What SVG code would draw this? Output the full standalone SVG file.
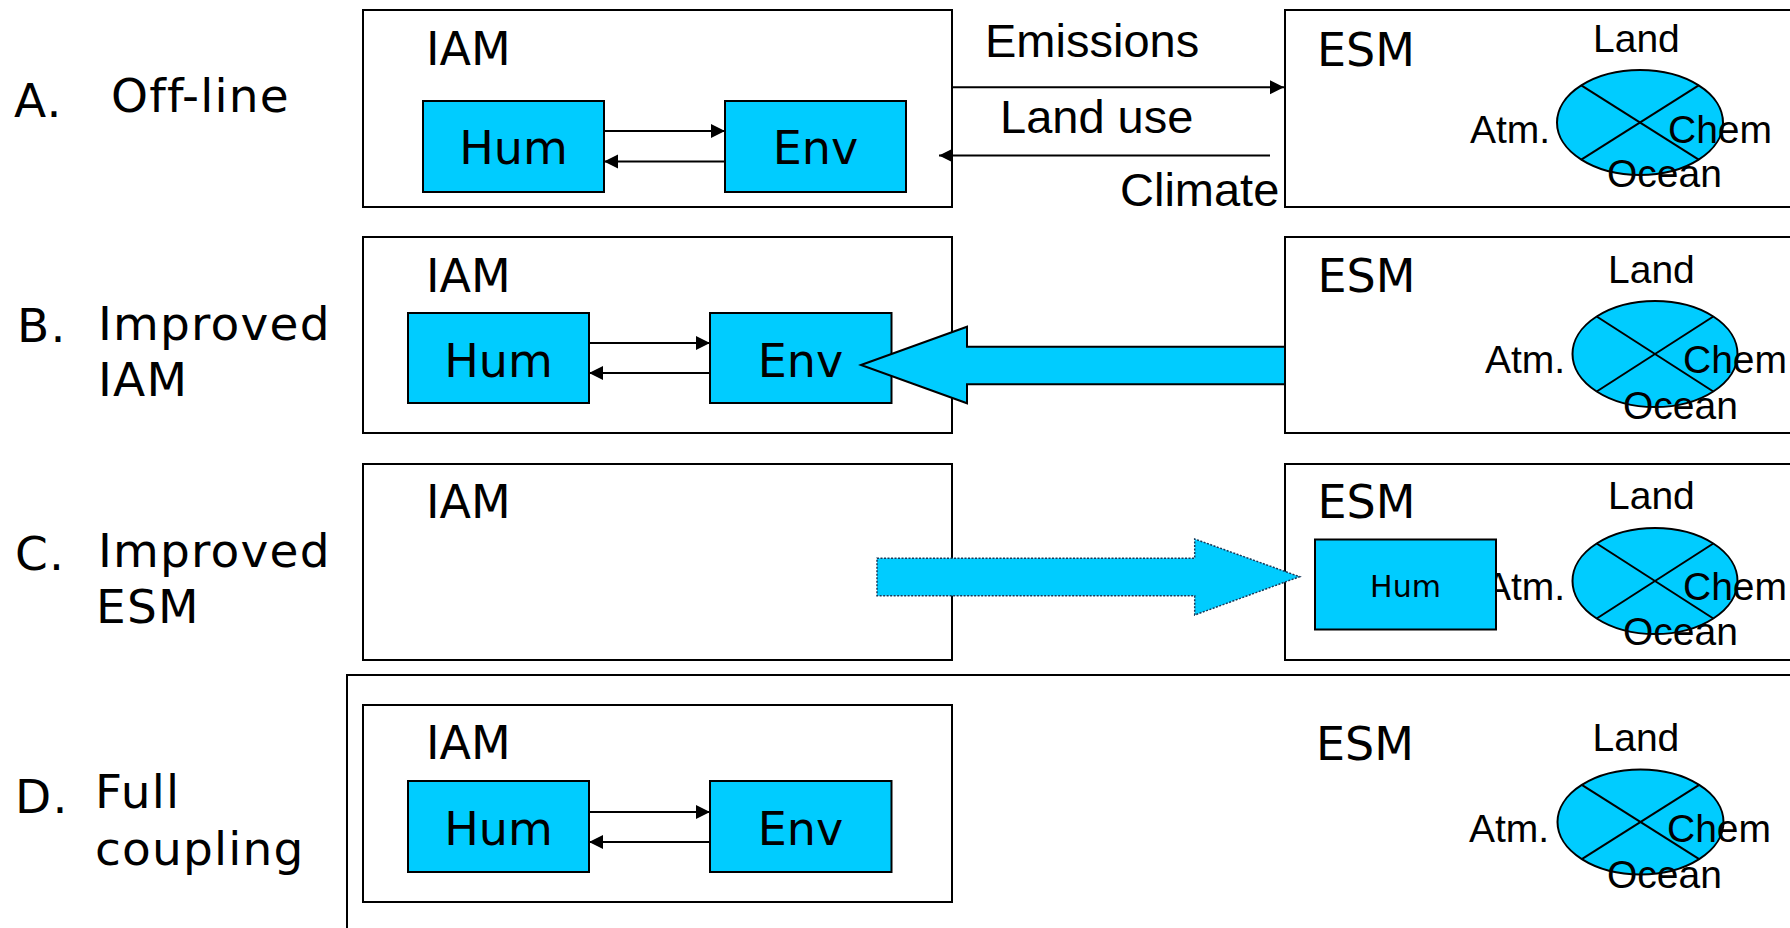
<svg xmlns="http://www.w3.org/2000/svg" width="1790" height="928" viewBox="0 0 1790 928">
<defs>
<marker id="ah" markerUnits="userSpaceOnUse" markerWidth="16" markerHeight="16" refX="14" refY="7" orient="auto">
<path d="M0,0 L14,7 L0,14 z" fill="#000"/>
</marker>
<style>
.box{fill:#fff;stroke:#000;stroke-width:2}
.blue{fill:#00CCFF;stroke:#000;stroke-width:2}
.lbl{font-family:"DejaVu Sans",Verdana,sans-serif;font-size:46px;fill:#000}
.row{font-family:"DejaVu Sans",Verdana,sans-serif;font-size:47px;letter-spacing:1.2px;fill:#000}
.sm{font-family:"Liberation Sans",Arial,sans-serif;font-size:39px;fill:#000}
.fl{font-family:"Liberation Sans",Arial,sans-serif;font-size:47px;fill:#000}
.ln{stroke:#000;stroke-width:2;fill:none}
.arr{stroke:#000;stroke-width:2;fill:none;marker-end:url(#ah)}
</style>
</defs>
<rect width="1790" height="928" fill="#fff"/>

<!-- Row labels -->
<g id="labels">
<text class="row" x="14" y="117">A.</text>
<text class="row" x="111" y="112">Off-line</text>
<text class="row" x="17" y="342">B.</text>
<text class="row" x="98" y="340">Improved</text>
<text class="row" x="98" y="396">IAM</text>
<text class="row" x="15" y="570">C.</text>
<text class="row" x="98" y="567">Improved</text>
<text class="row" x="96" y="623">ESM</text>
<text class="row" x="15" y="813">D.</text>
<text class="row" x="95" y="808">Full</text>
<text class="row" x="95" y="865">coupling</text>
</g>

<!-- Row D outer box -->
<g id="outerD"><rect class="box" x="347" y="675" width="1460" height="270"/></g>

<!-- Row A -->
<g id="iamA">
<rect class="box" x="363" y="10" width="589" height="197"/>
<text class="lbl" x="426" y="65">IAM</text>
</g>
<g id="humA"><rect class="blue" x="423" y="101" width="181" height="91"/><text class="lbl" x="513.5" y="164" text-anchor="middle">Hum</text></g>
<g id="envA"><rect class="blue" x="725" y="101" width="181" height="91"/><text class="lbl" x="815.5" y="164" text-anchor="middle">Env</text></g>
<g id="esmA">
<rect class="box" x="1285" y="10" width="520" height="197"/>
<text class="lbl" x="1317" y="66">ESM</text>
<text class="sm" x="1593" y="52">Land</text>
<ellipse class="blue" cx="1640" cy="122.5" rx="83" ry="52.5"/>
<line class="ln" x1="1581.3" y1="85.4" x2="1698.7" y2="159.6"/>
<line class="ln" x1="1698.7" y1="85.4" x2="1581.3" y2="159.6"/>
<text class="sm" x="1470" y="143">Atm.</text>
<text class="sm" x="1668" y="143">Chem</text>
<text class="sm" x="1607" y="187">Ocean</text>
</g>
<g id="flowA">
<text class="fl" x="985" y="57">Emissions</text>
<text class="fl" x="1000" y="133">Land use</text>
<text class="fl" x="1120" y="206">Climate</text>
</g>

<!-- Row B -->
<g id="iamB">
<rect class="box" x="363" y="237" width="589" height="196"/>
<text class="lbl" x="426" y="292">IAM</text>
</g>
<g id="humB"><rect class="blue" x="408" y="313" width="181" height="90"/><text class="lbl" x="498.5" y="377" text-anchor="middle">Hum</text></g>
<g id="envB"><rect class="blue" x="710" y="313" width="181.5" height="90"/><text class="lbl" x="800.5" y="377" text-anchor="middle">Env</text></g>
<g id="esmB">
<rect class="box" x="1285" y="237" width="520" height="196"/>
<text class="lbl" x="1317.5" y="292">ESM</text>
<text class="sm" x="1608" y="283">Land</text>
<ellipse class="blue" cx="1655" cy="354" rx="82.5" ry="53"/>
<line class="ln" x1="1596.7" y1="316.5" x2="1713.3" y2="391.5"/>
<line class="ln" x1="1713.3" y1="316.5" x2="1596.7" y2="391.5"/>
<text class="sm" x="1485" y="373">Atm.</text>
<text class="sm" x="1683" y="373">Chem</text>
<text class="sm" x="1623" y="419">Ocean</text>
</g>

<!-- Row C -->
<g id="iamC">
<rect class="box" x="363" y="464" width="589" height="196"/>
<text class="lbl" x="426" y="518">IAM</text>
</g>
<g id="esmC">
<rect class="box" x="1285" y="464" width="520" height="196"/>
<text class="lbl" x="1317.5" y="518">ESM</text>
<text class="sm" x="1608" y="509">Land</text>
<ellipse class="blue" cx="1655" cy="581" rx="82.5" ry="53"/>
<line class="ln" x1="1596.7" y1="543.5" x2="1713.3" y2="618.5"/>
<line class="ln" x1="1713.3" y1="543.5" x2="1596.7" y2="618.5"/>
<text class="sm" x="1485" y="600">Atm.</text>
<text class="sm" x="1683" y="600">Chem</text>
<text class="sm" x="1623" y="645">Ocean</text>
</g>
<g id="humC"><rect class="blue" x="1315" y="539.5" width="181" height="90"/><text x="1405.5" y="597" text-anchor="middle" style="font-family:'DejaVu Sans',Verdana,sans-serif;font-size:30px">Hum</text></g>

<!-- Row D -->
<g id="iamD">
<rect class="box" x="363" y="705" width="589" height="197"/>
<text class="lbl" x="426" y="759">IAM</text>
</g>
<g id="humD"><rect class="blue" x="408" y="781" width="181" height="91"/><text class="lbl" x="498.5" y="845" text-anchor="middle">Hum</text></g>
<g id="envD"><rect class="blue" x="710" y="781" width="181.5" height="91"/><text class="lbl" x="800.5" y="845" text-anchor="middle">Env</text></g>
<g id="esmD">
<text class="lbl" x="1316" y="760">ESM</text>
<text class="sm" x="1592.5" y="751">Land</text>
<ellipse class="blue" cx="1640.5" cy="822" rx="83" ry="52.5"/>
<line class="ln" x1="1581.8" y1="784.9" x2="1699.2" y2="859.1"/>
<line class="ln" x1="1699.2" y1="784.9" x2="1581.8" y2="859.1"/>
<text class="sm" x="1469" y="842">Atm.</text>
<text class="sm" x="1667" y="842">Chem</text>
<text class="sm" x="1607" y="888">Ocean</text>
</g>

<!-- Connectors -->
<g id="connectors">
<line class="arr" x1="604" y1="131" x2="725" y2="131"/>
<line class="arr" x1="725" y1="161.5" x2="604" y2="161.5"/>
<line class="arr" x1="953" y1="87.3" x2="1284" y2="87.3"/>
<line class="arr" x1="1270" y1="155.5" x2="939" y2="155.5"/>
<line class="arr" x1="589" y1="343" x2="710" y2="343"/>
<line class="arr" x1="710" y1="373" x2="589" y2="373"/>
<line class="arr" x1="589" y1="812" x2="710" y2="812"/>
<line class="arr" x1="710" y1="842" x2="589" y2="842"/>
<polygon points="861,365 967,326.7 967,346.7 1285,346.7 1285,384.3 967,384.3 967,403.3" fill="#00CCFF" stroke="#000" stroke-width="2"/>
<polygon points="877,558.3 1194.7,558.3 1194.7,539 1299.6,576.7 1194.7,615 1194.7,595.7 877,595.7" fill="#00CCFF" stroke="#1a3a5a" stroke-width="1.5" stroke-dasharray="2,1.5"/>
</g>
</svg>
